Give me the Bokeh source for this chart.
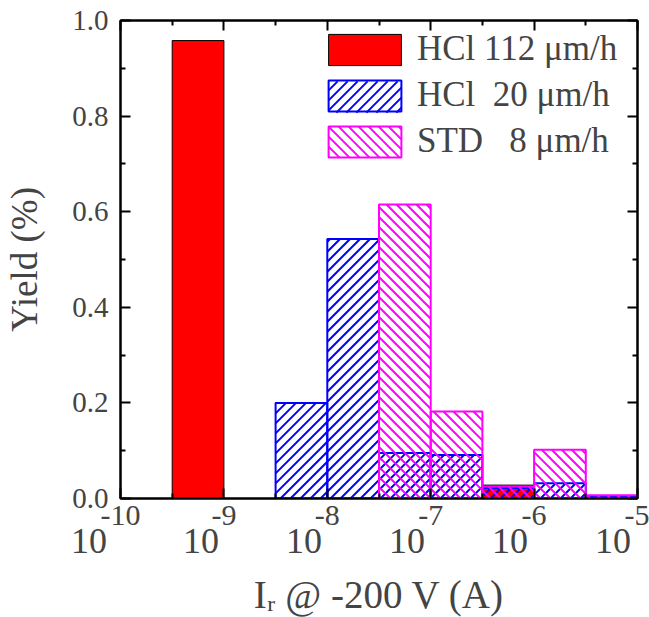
import math
from bokeh.plotting import figure
from bokeh.models import (FixedTicker, LogAxis, LinearAxis, Legend, LegendItem,
                          ColumnDataSource, Range1d, PrintfTickFormatter, CustomJSTickFormatter)
from bokeh.embed import file_html
from bokeh.resources import INLINE

# ---------------- data ----------------
bin_left_exp = [-9.5, -9.0, -8.5, -8.0, -7.5, -7.0, -6.5, -6.0, -5.5]   # log10 of bin left edge
bin_width_exp = 0.5
yield_hcl112 = [0.958, 0, 0, 0, 0, 0, 0.028, 0, 0]
yield_hcl20 = [0, 0, 0.200, 0.543, 0.095, 0.091, 0.022, 0.032, 0.004]
yield_std8 = [0, 0, 0, 0, 0.615, 0.182, 0.025, 0.102, 0.007]
series_labels = ["HCl 112 \u03bcm/h", "HCl\u00a0\u00a020 \u03bcm/h", "STD\u00a0\u00a0\u00a08 \u03bcm/h"]
x_decades = [-10, -9, -8, -7, -6, -5]
y_ticks = [0.0, 0.2, 0.4, 0.6, 0.8, 1.0]
y_minor = [0.1, 0.3, 0.5, 0.7, 0.9]
y_title = "Yield (%)"
x_title = "I\u1d63 @ -200 V (A)"

FONT = "Liberation Serif"
FRAME_W, FRAME_H = 517, 478
X_LO, X_HI = x_decades[0], x_decades[-1]
HATCH_STEP = 10          # px between hatch lines (horizontal)


def px_of_exp(e):
    return (e - X_LO) / (X_HI - X_LO) * FRAME_W


def x_of_px(px):
    return 10 ** (X_LO + px / FRAME_W * (X_HI - X_LO))


def hatch(px0, px1, py0, py1, rising):
    """45-degree hatch segments inside a pixel rectangle, returned in data coords."""
    x0s, y0s, x1s, y1s = [], [], [], []
    if rising:      # py = px + c
        kmin = math.ceil((py0 - px1) / HATCH_STEP)
        kmax = math.floor((py1 - px0) / HATCH_STEP)
    else:           # py = -px + c
        kmin = math.ceil((px0 + py0) / HATCH_STEP)
        kmax = math.floor((px1 + py1) / HATCH_STEP)
    for k in range(kmin, kmax + 1):
        c = k * HATCH_STEP
        if rising:
            a, b = max(px0, py0 - c), min(px1, py1 - c)
            if b - a <= 0.3:
                continue
            ya, yb = a + c, b + c
        else:
            a, b = max(px0, c - py1), min(px1, c - py0)
            if b - a <= 0.3:
                continue
            ya, yb = c - a, c - b
        x0s.append(x_of_px(a)); x1s.append(x_of_px(b))
        y0s.append(ya / FRAME_H); y1s.append(yb / FRAME_H)
    return x0s, y0s, x1s, y1s


def make_source(vals):
    left, right, top = [], [], []
    for e, v in zip(bin_left_exp, vals):
        if v > 0:
            left.append(10 ** e)
            right.append(10 ** (e + bin_width_exp))
            top.append(v)
    return ColumnDataSource(dict(left=left, right=right, top=top, bottom=[0] * len(top)))


# legend geometry (frame pixels from bottom-left)
LEG_X, LEG_Y, GW, GH, SPACING = 199, 337, 91, 39, 6


def legend_swatch_px(i):
    top = LEG_Y + 3 * GH + 2 * SPACING - i * (GH + SPACING)
    return LEG_X + 0.1 * GW, LEG_X + 0.9 * GW, top - 0.9 * GH, top - 0.1 * GH


def hatch_source(vals, rising, legend_index):
    X0, Y0, X1, Y1 = [], [], [], []
    for e, v in zip(bin_left_exp, vals):
        if v > 0:
            s = hatch(px_of_exp(e), px_of_exp(e + bin_width_exp), 0, v * FRAME_H, rising)
            for L, part in zip((X0, Y0, X1, Y1), s):
                L.extend(part)
    s = hatch(*legend_swatch_px(legend_index), rising)
    for L, part in zip((X0, Y0, X1, Y1), s):
        L.extend(part)
    return ColumnDataSource(dict(x0=X0, y0=Y0, x1=X1, y1=Y1))


p = figure(x_axis_type="log", x_range=Range1d(10.0 ** X_LO, 10.0 ** X_HI),
           y_range=Range1d(0, 1.0), frame_width=FRAME_W, frame_height=FRAME_H,
           output_backend="svg", toolbar_location=None,
           min_border_left=120, min_border_right=12, min_border_top=20, min_border_bottom=119)
p.grid.visible = False
p.outline_line_color = "black"
p.outline_line_width = 2
p.background_fill_color = "white"
p.border_fill_color = "white"

xt = FixedTicker(ticks=[10.0 ** d for d in x_decades],
                 minor_ticks=[10.0 ** (d + 0.5) for d in x_decades[:-1]])
yt = FixedTicker(ticks=y_ticks, minor_ticks=y_minor)


def style_axis(ax, hide_labels=True):
    ax.axis_line_width = 2
    ax.major_tick_in = 10
    ax.major_tick_out = 0
    ax.minor_tick_in = 5
    ax.minor_tick_out = 0
    ax.major_tick_line_width = 2
    ax.minor_tick_line_width = 2
    if hide_labels:
        ax.major_label_text_font_size = "1px"
        ax.major_label_text_color = None
        ax.major_label_standoff = 0


# bottom axis: ticks + exponent part of the 10^n labels
xa = p.xaxis[0]
xa.ticker = xt
style_axis(xa, hide_labels=False)
xa.formatter = CustomJSTickFormatter(code="return String(Math.round(Math.log10(tick)));")
xa.major_label_text_font = FONT
xa.major_label_text_font_size = "30px"
xa.major_label_standoff = 7

# second bottom axis: the "10" base of each label (placed a little left of its tick), plus the title
BASE_STEP = 98.5                      # px per decade for the base-label axis
p.extra_x_ranges = {"base": Range1d(10.0 ** X_LO, 10.0 ** (X_LO + FRAME_W / BASE_STEP))}
base_pad = {-10: 7, -9: 4, -8: 3, -7: 2, -6: 1, -5: 0}
pad_js = "{" + ",".join(f'"{k}":{v}' for k, v in base_pad.items()) + "}"
base_ax = LogAxis(x_range_name="base", ticker=xt, formatter=CustomJSTickFormatter(code=f"""
const pads = {pad_js};
const e = String(Math.round(Math.log10(tick)));
const n = pads[e] || 0;
return "10" + "\\u00a0".repeat(n);
"""))
base_ax.axis_line_color = None
base_ax.major_tick_line_color = None
base_ax.minor_tick_line_color = None
base_ax.major_tick_out = 0
base_ax.major_tick_in = 0
base_ax.minor_tick_out = 0
base_ax.minor_tick_in = 0
base_ax.major_label_text_font = FONT
base_ax.major_label_text_font_size = "36px"
base_ax.major_label_standoff = -7
base_ax.axis_label = x_title
base_ax.axis_label_text_font = FONT
base_ax.axis_label_text_font_size = "39px"
base_ax.axis_label_text_font_style = "normal"
base_ax.axis_label_standoff = 9
p.add_layout(base_ax, "below")

ya = p.yaxis[0]
ya.ticker = yt
style_axis(ya, hide_labels=False)
ya.formatter = PrintfTickFormatter(format="%.1f")
ya.major_label_text_font = FONT
ya.major_label_text_font_size = "29px"
ya.major_label_standoff = 12
ya.axis_label = y_title
ya.axis_label_text_font = FONT
ya.axis_label_text_font_size = "37px"
ya.axis_label_text_font_style = "normal"
ya.axis_label_standoff = 24

top_ax = LogAxis(ticker=xt)
style_axis(top_ax)
p.add_layout(top_ax, "above")
right_ax = LinearAxis(ticker=yt)
style_axis(right_ax)
p.add_layout(right_ax, "right")

# ---------------- bars ----------------
r_red = p.quad(left="left", right="right", bottom="bottom", top="top", source=make_source(yield_hcl112),
               fill_color="#ff0000", line_color="black", line_width=1)
p.segment(x0="x0", y0="y0", x1="x1", y1="y1", source=hatch_source(yield_hcl20, True, 1),
          line_color="#0000ff", line_width=2)
r_blue = p.quad(left="left", right="right", bottom="bottom", top="top", source=make_source(yield_hcl20),
                fill_color=None, line_color="#0000ff", line_width=2)
p.segment(x0="x0", y0="y0", x1="x1", y1="y1", source=hatch_source(yield_std8, False, 2),
          line_color="#ff00ff", line_width=2)
r_mag = p.quad(left="left", right="right", bottom="bottom", top="top", source=make_source(yield_std8),
               fill_color=None, line_color="#ff00ff", line_width=2)

legend = Legend(items=[LegendItem(label=series_labels[0], renderers=[r_red]),
                       LegendItem(label=series_labels[1], renderers=[r_blue]),
                       LegendItem(label=series_labels[2], renderers=[r_mag])],
                location=(LEG_X, LEG_Y), glyph_width=GW, glyph_height=GH, label_standoff=7,
                spacing=SPACING, padding=0, margin=0, border_line_color=None,
                background_fill_alpha=0, label_text_font=FONT, label_text_font_size="35px")
p.add_layout(legend)

open("out.html", "w").write(file_html(p, INLINE))
